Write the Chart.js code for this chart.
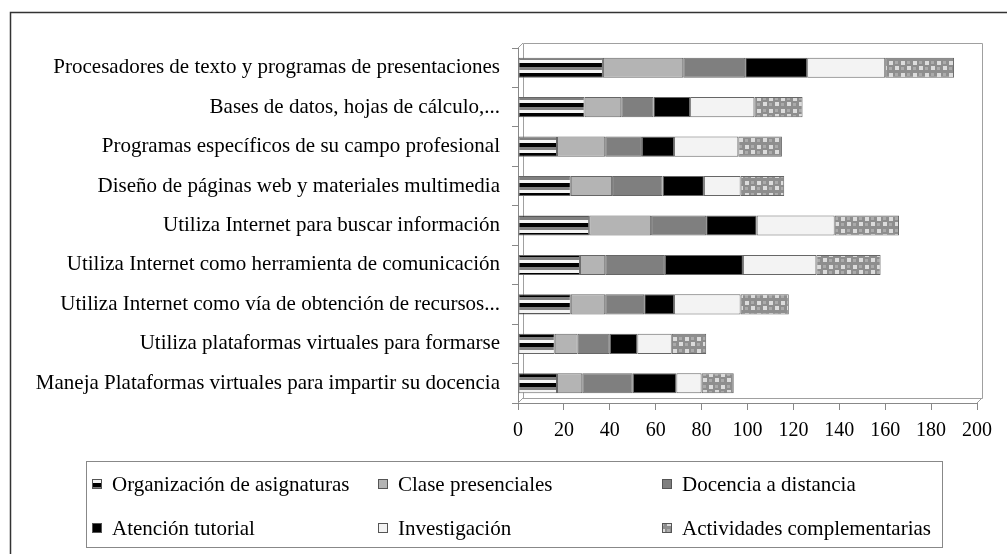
<!DOCTYPE html>
<html>
<head>
<meta charset="utf-8">
<script src="https://cdn.jsdelivr.net/npm/chart.js@4/dist/chart.umd.min.js"></script>
<style>
  html, body { margin: 0; padding: 0; background: #fff; }
  #wrap { width: 1007px; height: 554px; position: relative; }
</style>
</head>
<body>
<div id="wrap"><canvas id="chart" width="1007" height="554"></canvas></div>
<script>
const categories = [
  'Procesadores de texto y programas de presentaciones',
  'Bases de datos, hojas de cálculo,...',
  'Programas específicos de su campo profesional',
  'Diseño de páginas web y materiales multimedia',
  'Utiliza Internet para buscar información',
  'Utiliza Internet como herramienta de comunicación',
  'Utiliza Internet como vía de obtención de recursos...',
  'Utiliza plataformas virtuales para formarse',
  'Maneja Plataformas virtuales para impartir su docencia'
];

const organizacion  = [37, 29, 17, 23, 31, 27, 23, 16, 17];
const clase         = [35, 16, 21, 18, 27, 11, 15, 10, 11];
const docencia      = [27, 14, 16, 22, 24, 26, 17, 14, 22];
const atencion      = [27, 16, 14, 18, 22, 34, 13, 12, 19];
const investigacion = [34, 28, 28, 16, 34, 32, 29, 15, 11];
const actividades   = [30, 21, 19, 19, 28, 28, 21, 15, 14];

const xTicks = [0, 20, 40, 60, 80, 100, 120, 140, 160, 180, 200];

const FONT = '"Liberation Serif", "Times New Roman", serif';

// fill patterns
function stripes() {
  const c = document.createElement('canvas');
  c.width = 4; c.height = 10;
  const g = c.getContext('2d');
  g.fillStyle = '#f4f4f4'; g.fillRect(0, 0, 4, 3);
  g.fillStyle = '#000';    g.fillRect(0, 3, 4, 4);
  g.fillStyle = '#808080'; g.fillRect(0, 7, 4, 3);
  return g.createPattern(c, 'repeat');
}

function checker() {
  const c = document.createElement('canvas');
  c.width = 12; c.height = 12;
  const g = c.getContext('2d');
  g.fillStyle = '#8e8e8e'; g.fillRect(0, 0, 12, 12);
  g.fillStyle = '#dcdcdc';
  g.fillRect(1, 1, 4, 4);
  g.fillRect(7, 6, 4, 4);
  g.fillStyle = '#ababab';
  g.fillRect(7, 1, 3, 3);
  g.fillRect(1, 7, 3, 3);
  return g.createPattern(c, 'repeat');
}

const seriesNames = [
  'Organización de asignaturas',
  'Clase presenciales',
  'Docencia a distancia',
  'Atención tutorial',
  'Investigación',
  'Actividades complementarias'
];
const seriesData = [organizacion, clase, docencia, atencion, investigacion, actividades];
const fills = [stripes(), '#b4b4b4', '#7f7f7f', '#000000', '#f3f3f3', checker()];

// page frame + 3D back wall
const framePlugin = {
  id: 'frame',
  beforeDraw(chart) {
    const ctx = chart.ctx;
    ctx.save();
    ctx.fillStyle = '#fff';
    ctx.fillRect(0, 0, chart.width, chart.height);
    ctx.strokeStyle = '#333';
    ctx.lineWidth = 1.5;
    ctx.beginPath();
    ctx.moveTo(10.5, chart.height);
    ctx.lineTo(10.5, 12.5);
    ctx.lineTo(chart.width, 12.5);
    ctx.stroke();
    ctx.restore();
  },
  beforeDatasetsDraw(chart) {
    const { left, right, top, bottom } = chart.chartArea;
    const d = 5;
    const ctx = chart.ctx;
    ctx.save();
    ctx.strokeStyle = '#a0a0a0';
    ctx.lineWidth = 1;
    ctx.beginPath();
    ctx.moveTo(left + d + 0.5, bottom - d);
    ctx.lineTo(left + d + 0.5, top - d + 0.5);
    ctx.lineTo(right + d + 0.5, top - d + 0.5);
    ctx.lineTo(right + d + 0.5, bottom - d + 0.5);
    ctx.lineTo(left + d, bottom - d + 0.5);
    ctx.moveTo(left, top); ctx.lineTo(left + d, top - d);
    ctx.moveTo(left, bottom); ctx.lineTo(left + d, bottom - d);
    ctx.moveTo(right, bottom); ctx.lineTo(right + d, bottom - d);
    ctx.stroke();
    ctx.restore();
  }
};

// boxed legend in a 3 x 2 grid
const legendPlugin = {
  id: 'boxLegend',
  afterDraw(chart) {
    const ctx = chart.ctx;
    ctx.save();
    ctx.strokeStyle = '#888';
    ctx.lineWidth = 1;
    ctx.strokeRect(86.5, 461.5, 856, 86);
    const cols = [92, 378, 662];
    const rows = [484, 528];
    ctx.font = '21px ' + FONT;
    ctx.textBaseline = 'middle';
    ctx.fillStyle = '#000';
    chart.data.datasets.forEach((ds, i) => {
      const x = cols[i % 3], y = rows[Math.floor(i / 3)];
      ctx.fillStyle = ds.backgroundColor;
      ctx.fillRect(x, y - 5, 10, 10);
      ctx.strokeStyle = '#555';
      ctx.strokeRect(x + 0.5, y - 4.5, 9, 9);
      ctx.fillStyle = '#000';
      ctx.fillText(ds.label, x + 20, y + 1);
    });
    ctx.restore();
  }
};

new Chart(document.getElementById('chart'), {
  type: 'bar',
  data: {
    labels: categories,
    datasets: seriesNames.map((name, i) => ({
      label: name,
      data: seriesData[i],
      backgroundColor: fills[i],
      borderColor: '#666',
      borderWidth: 1,
      borderSkipped: false,
      barPercentage: 0.51,
      categoryPercentage: 1
    }))
  },
  options: {
    indexAxis: 'y',
    responsive: false,
    animation: false,
    layout: { padding: { top: 48, right: 30, left: 0, bottom: 0 } },
    plugins: {
      legend: { display: false },
      tooltip: { enabled: false }
    },
    scales: {
      x: {
        stacked: true,
        min: 0,
        max: 200,
        afterBuildTicks(scale) { scale.ticks = xTicks.map(v => ({ value: v })); },
        afterFit(scale) { scale.height = 151; },
        grid: { drawOnChartArea: false, drawTicks: true, tickLength: 7, color: '#888' },
        border: { color: '#888' },
        ticks: { color: '#000', font: { family: FONT, size: 20 }, padding: 9, maxRotation: 0 }
      },
      y: {
        stacked: true,
        afterFit(scale) { scale.width = 518; },
        grid: { drawOnChartArea: false, drawTicks: true, tickLength: 6, color: '#888', offset: true },
        border: { color: '#888' },
        ticks: { color: '#000', font: { family: FONT, size: 21 }, padding: 12, autoSkip: false }
      }
    }
  },
  plugins: [framePlugin, legendPlugin]
});
</script>
</body>
</html>
